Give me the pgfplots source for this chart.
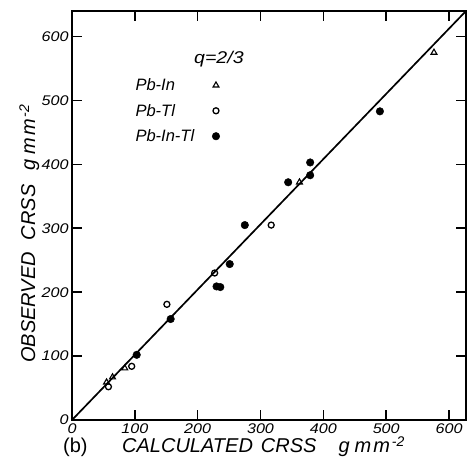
\documentclass[border=0pt]{standalone}
\usepackage{fontspec}
\setmainfont{Liberation Sans}
\newfontfamily\wide[FakeStretch=1.15]{Liberation Sans}
\usepackage{pgfplots}
\pgfplotsset{compat=1.18}
\begin{document}
\begin{tikzpicture}[x=1pt,y=1pt]
\path[use as bounding box] (0,0) rectangle (468,468);
\begin{axis}[
  at={(72pt,48pt)}, anchor=south west,
  width=394pt, height=409pt, scale only axis,
  xmin=0, xmax=627, ymin=0, ymax=640,
  xtick={0,100,...,600}, ytick={0,100,...,600},
  tick pos=both, xticklabel pos=bottom, yticklabel pos=left,
  tick align=inside, major tick length=10pt,
  every tick/.style={line width=1.6pt, black},
  axis line style={line width=1.8pt},
  ticklabel style={font=\wide\fontsize{14}{14}\selectfont\itshape},
  /pgf/number format/assume math mode=true,
  legend plot pos=right,
  legend cell align=left,
  legend style={at={(0.148,0.845)}, anchor=north west, draw=none, fill=none,
    font=\fontsize{16.5}{19}\selectfont\itshape, row sep=8pt, column sep=16pt},
]
\addplot[line width=1.7pt, no marks, forget plot] coordinates {(0,0) (627,640)};
\addplot[only marks, mark=triangle, mark size=3.4pt, line width=1.1pt, black] coordinates {
 (576,575) (362,372) (84,81) (64.5,67) (55,59)};
\addlegendentry{Pb-In}
\addplot[only marks, mark=o, mark size=3pt, line width=1.3pt, black] coordinates {
 (317,305) (151,181) (227,230) (95,84) (58,52)};
\addlegendentry{Pb-Tl}
\addplot[only marks, mark=*, mark size=3.8pt, black] coordinates {
 (103,102) (157,158) (230,209) (236,208) (251,244) (275,305) (344,372) (379,403) (379,383) (490,483)};
\addlegendentry{Pb-In-Tl}
\end{axis}
\node[anchor=west, font=\wide\fontsize{17}{17}\selectfont\itshape, inner sep=0pt] at (194,409) {q=2/3};
\node[anchor=base west, font=\fontsize{20}{20}\selectfont, inner sep=0pt] at (63,15) {(b)};
\node[anchor=base west, font=\fontsize{20}{20}\selectfont\itshape, inner sep=0pt] at (122,15)
  {CALCULATED\hspace{8pt}CRSS\hspace{22pt}g\hspace{5pt}m\hspace{2pt}m\hspace{2pt}\raisebox{6pt}{\fontsize{14}{14}\selectfont -2}};
\node[anchor=base west, rotate=90, font=\fontsize{20}{20}\selectfont\itshape, inner sep=0pt] at (35,105)
  {OBSERVED\hspace{12pt}CRSS\hspace{14pt}g\hspace{5pt}m\hspace{2pt}m\hspace{2pt}\raisebox{6pt}{\fontsize{14}{14}\selectfont -2}};
\end{tikzpicture}
\end{document}
